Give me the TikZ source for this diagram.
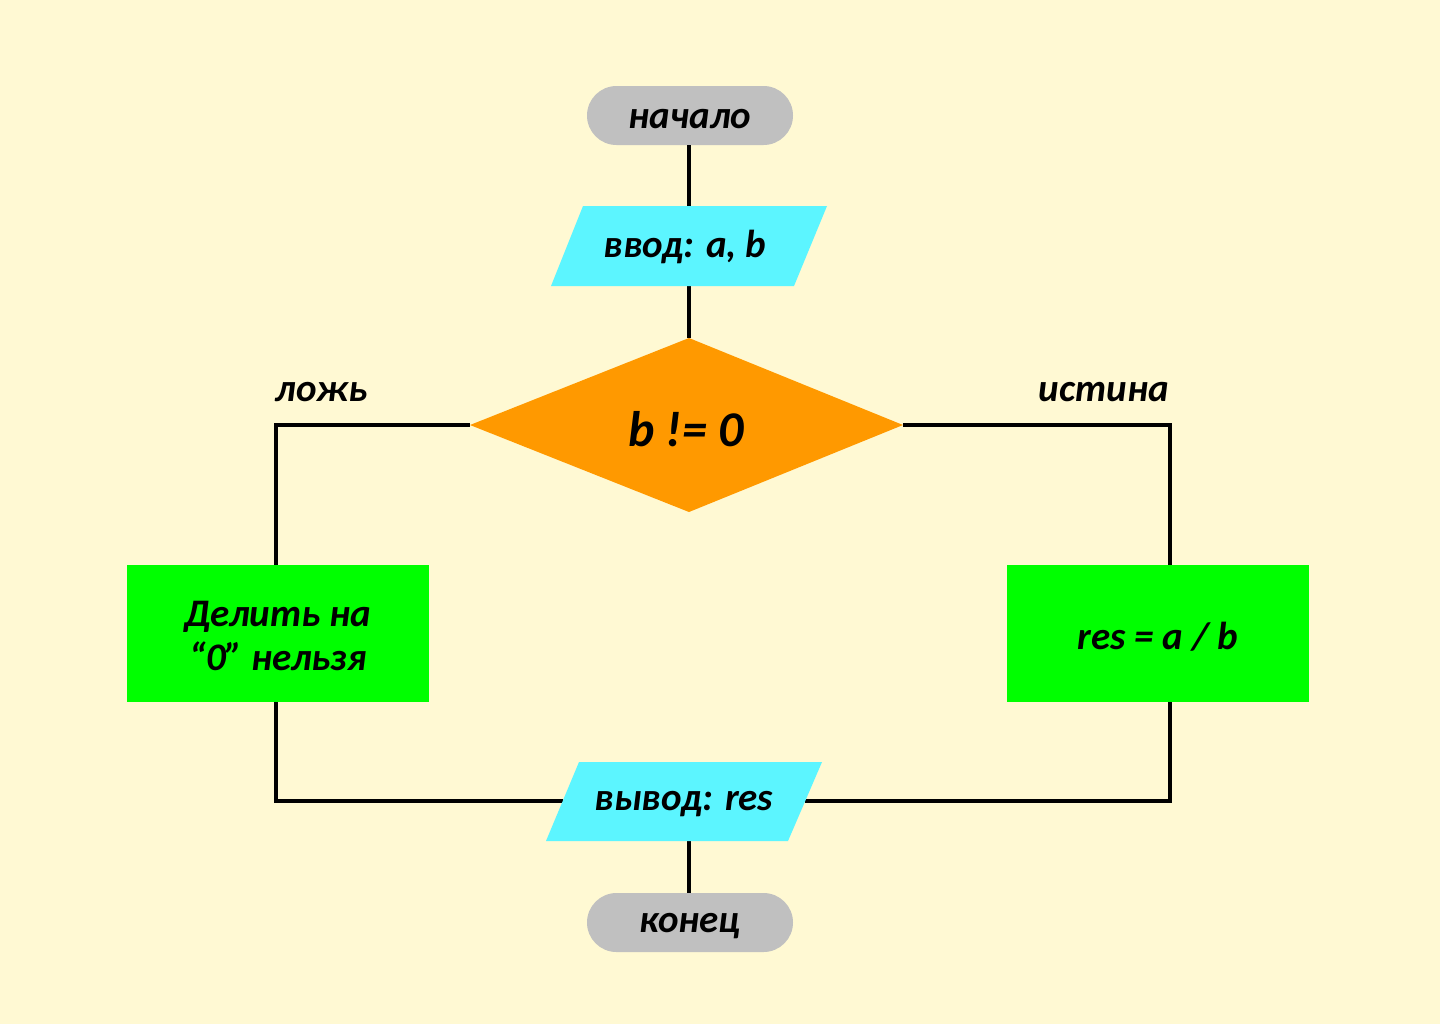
\documentclass[tikz,border=0pt]{standalone}
\usepackage{fontspec}
\setmainfont{Carlito}
\definecolor{bgc}{HTML}{FFF9D3}
\definecolor{termc}{HTML}{C0C0C0}
\definecolor{ioc}{HTML}{5CF5FF}
\definecolor{decc}{HTML}{FF9900}
\definecolor{procc}{HTML}{00FF00}
\tikzset{
  txt/.style={font=\fontsize{19.5}{22}\selectfont\bfseries\itshape, text=black, align=center, inner sep=0pt},
  bigtxt/.style={font=\fontsize{25}{29}\selectfont\bfseries\itshape, text=black, inner sep=0pt},
  term/.style={fill=termc, rounded corners=14.75pt, minimum width=103pt, minimum height=29.5pt, inner sep=0pt},
  proc/.style={fill=procc, minimum width=151pt, minimum height=68.5pt, inner sep=0pt},
  conn/.style={line width=1.9pt, black},
}
\begin{document}
\begin{tikzpicture}[x=0.5pt,y=-0.5pt]
\fill[bgc] (0,0) rectangle (1440,1024);
\useasboundingbox (0,0) rectangle (1440,1024);
% coordinates
\coordinate (inT) at (689,206);
\coordinate (inB) at (689,286);
\coordinate (dT) at (689,338);
\coordinate (dR) at (903,425);
\coordinate (dB) at (689,512);
\coordinate (dL) at (470,425);
\coordinate (outL) at (563,801);
\coordinate (outR) at (805,801);
\coordinate (outB) at (689,841);
\coordinate (lx) at (276,633);
\coordinate (rx) at (1170,633);
% shape nodes
\node[term] (start) at (690,115.5) {};
\node[term] (stop) at (690,922.5) {};
\node[proc] (left) at (278,633.5) {};
\node[proc] (right) at (1158,633.5) {};
% connectors
\draw[conn] (start.south -| inT) -- (inT);
\draw[conn] (inB) -- (dT);
\draw[conn] (dL) -| (left.north -| lx);
\draw[conn] (dR) -| (right.north -| rx);
\draw[conn] (left.south -| lx) |- (outL);
\draw[conn] (right.south -| rx) |- (outR);
\draw[conn] (outB) -- (stop.north -| outB);
% other shapes
\fill[ioc] (583,206) -- (827,206) -- (794,286) -- (551,286) -- cycle;
\fill[decc] (dT) -- (dR) -- (dB) -- (dL) -- cycle;
\fill[ioc] (579,762) -- (822,762) -- (788,841) -- (546,841) -- cycle;
% texts
\node[txt] (tstart) at (690,119) {начало};
\node[txt] (inp) at (685,247) {ввод: a, b};
\node[bigtxt] (cond) at (686,429) {b != 0};
\node[txt] (lf) at (322,392) {ложь};
\node[txt] (lt) at (1104,392) {истина};
\node[txt] (tleft) at (278,635.5) {Делить на\\“0” нельзя};
\node[txt] (tright) at (1158,636.5) {res = a / b};
\node[txt] (outp) at (684,804) {вывод: res};
\node[txt] (tstop) at (690,926) {конец};
\end{tikzpicture}
\end{document}
